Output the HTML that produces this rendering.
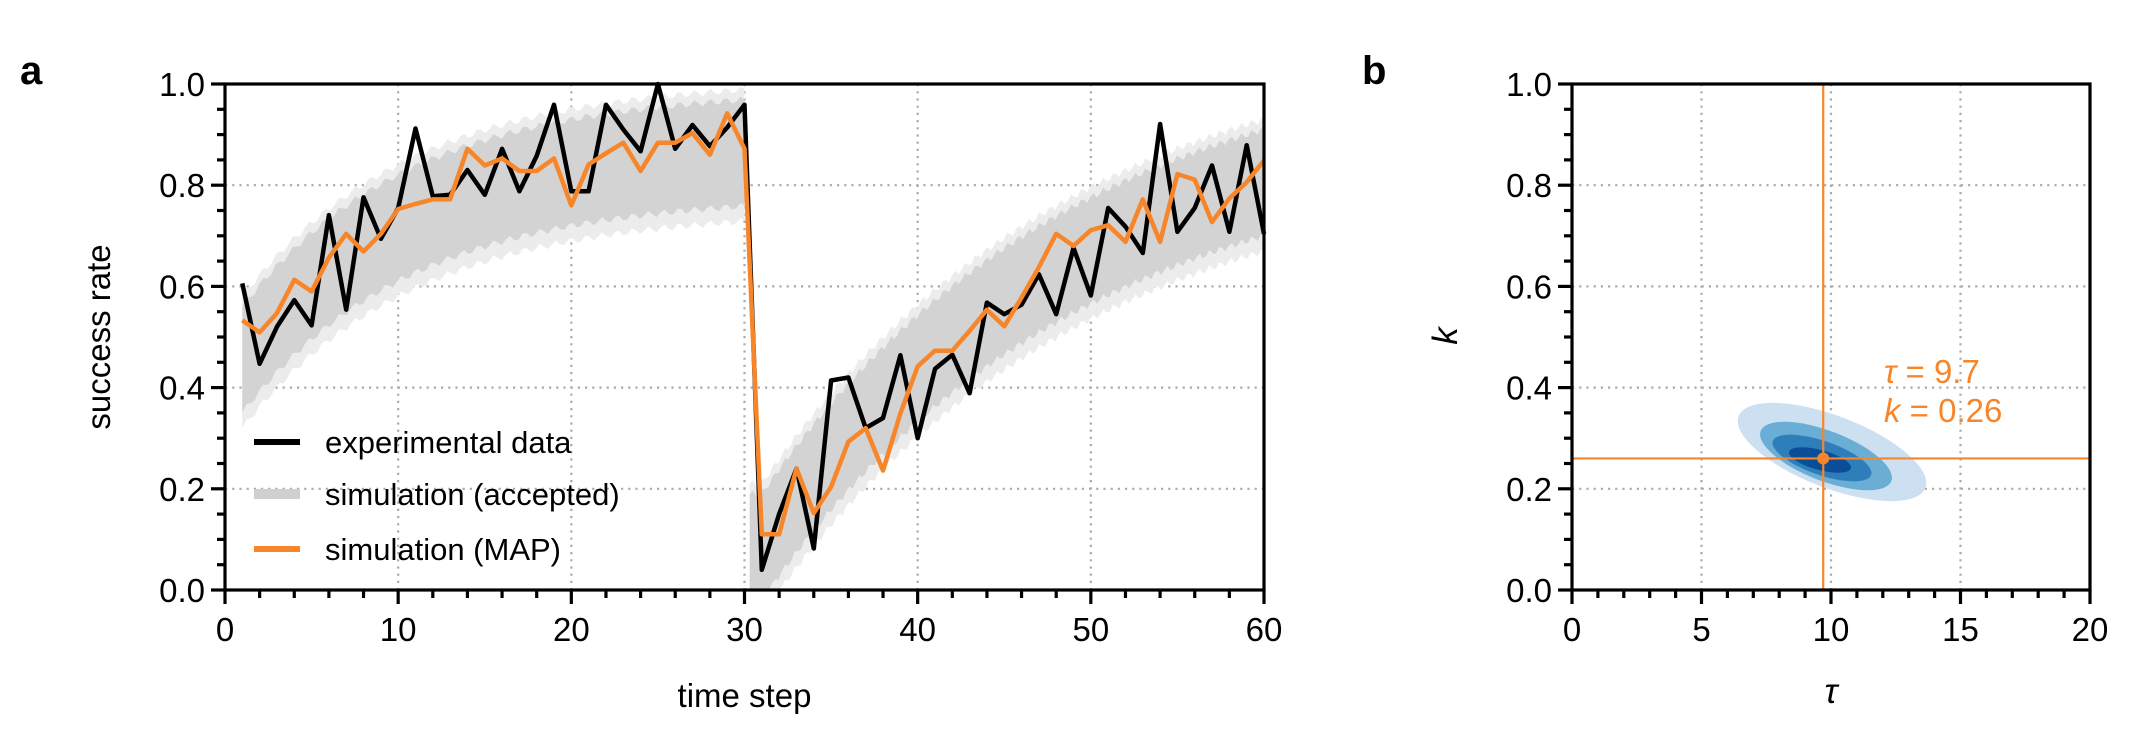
<!DOCTYPE html>
<html><head><meta charset="utf-8"><style>
html,body{margin:0;padding:0;background:#fff}
svg{display:block;font-family:"Liberation Sans",sans-serif}
</style></head><body>
<svg id="s" width="2148" height="738" xmlns="http://www.w3.org/2000/svg"></svg>
<script>
const S=document.getElementById('s');let h='';
const OR='#f7862a';
const ax=225,ar=1264,at=84,ab=590;
const X=t=>ax+t*(ar-ax)/60, Y=v=>ab-v*(ab-at);
for(let t=10;t<60;t+=10)h+=`<line x1="${X(t)}" y1="${at}" x2="${X(t)}" y2="${ab}" stroke="#aaa" stroke-width="2.2" stroke-dasharray="2.2 5"/>`;
for(let v=0.2;v<0.99;v+=0.2)h+=`<line x1="${ax}" y1="${Y(v)}" x2="${ar}" y2="${Y(v)}" stroke="#aaa" stroke-width="2.2" stroke-dasharray="2.2 5"/>`;
function band(lo,hi,fill,op){let up=[],dn=[];
for(let i=0;i<=120;i++){let t=1+i*29/120;let s=(t-1)/29;let m=0.47+0.43*(1-Math.exp(-3*s));let w=Math.sin(i*1.7)*0.007;up.push([X(t),Y(Math.min(1.0,m+hi+w))]);dn.push([X(t),Y(m-lo+w)]);}
let p='M'+up.map(a=>a.join(',')).join('L')+'L'+dn.reverse().map(a=>a.join(',')).join('L')+'Z';
up=[];dn=[];
for(let i=0;i<=160;i++){let t=30.3+i*29.7/160;let s=(t-31)/29;let m=0.1+0.72*(1-Math.exp(-1.6*Math.max(s,0)))/(1-Math.exp(-1.6));let w=Math.sin(i*1.9)*0.007;up.push([X(t),Y(Math.min(1,m+hi+w))]);dn.push([X(t),Y(Math.max(0,m-lo+w))]);}
p+='M'+up.map(a=>a.join(',')).join('L')+'L'+dn.reverse().map(a=>a.join(',')).join('L')+'Z';
h+=`<path d="${p}" fill="${fill}" fill-opacity="${op}"/>`;}
band(0.15,0.11,'#ececec',1);band(0.12,0.09,'#d3d3d3',1);
const blk=[0.606,0.447,0.52,0.573,0.523,0.741,0.554,0.776,0.694,0.755,0.912,0.778,0.781,0.83,0.781,0.872,0.788,0.858,0.959,0.788,0.788,0.959,0.91,0.867,1.0,0.872,0.919,0.877,0.914,0.959,0.04,0.15,0.24,0.082,0.414,0.42,0.32,0.34,0.464,0.30,0.437,0.465,0.389,0.568,0.545,0.564,0.624,0.545,0.676,0.582,0.755,0.718,0.666,0.921,0.708,0.755,0.839,0.708,0.879,0.704];
const org=[0.533,0.509,0.547,0.613,0.59,0.657,0.704,0.669,0.704,0.753,0.763,0.772,0.772,0.872,0.839,0.853,0.828,0.828,0.853,0.76,0.841,0.863,0.884,0.828,0.884,0.884,0.903,0.86,0.942,0.872,0.11,0.11,0.24,0.152,0.204,0.293,0.32,0.236,0.349,0.442,0.473,0.473,0.512,0.554,0.521,0.578,0.638,0.704,0.68,0.711,0.721,0.688,0.772,0.688,0.822,0.811,0.727,0.774,0.806,0.849];
const pl=a=>a.map((v,i)=>X(i+1).toFixed(1)+','+Y(v).toFixed(1)).join(' ');
h+=`<polyline points="${pl(blk)}" fill="none" stroke="#000" stroke-width="4.5" stroke-linejoin="round"/>`;
h+=`<polyline points="${pl(org)}" fill="none" stroke="${OR}" stroke-width="4.5" stroke-linejoin="round"/>`;
h+=`<rect x="${ax}" y="${at}" width="${ar-ax}" height="${ab-at}" fill="none" stroke="#000" stroke-width="3.2"/>`;
for(let v=0;v<=1.001;v+=0.05){let maj=Math.abs(v*5-Math.round(v*5))<1e-6;h+=`<line x1="${ax}" x2="${ax-(maj?14:8)}" y1="${Y(v)}" y2="${Y(v)}" stroke="#000" stroke-width="3.2"/>`;if(maj)h+=`<text x="${ax-20}" y="${Y(v)+12}" font-size="33" text-anchor="end">${v.toFixed(1)}</text>`;}
for(let t=0;t<=60;t+=2){let maj=t%10==0;h+=`<line x1="${X(t)}" x2="${X(t)}" y1="${ab}" y2="${ab+(maj?14:8)}" stroke="#000" stroke-width="3.2"/>`;if(maj)h+=`<text x="${X(t)}" y="${ab+51}" font-size="33" text-anchor="middle">${t}</text>`;}
h+=`<text x="${(ax+ar)/2}" y="707" font-size="33" text-anchor="middle">time step</text>`;
h+=`<text transform="translate(110,${(at+ab)/2}) rotate(-90)" font-size="33" text-anchor="middle">success rate</text>`;
h+=`<text x="20" y="84" font-size="40" font-weight="bold">a</text>`;
[[442,'#000','experimental data'],[494,'#cfcfcf','simulation (accepted)'],[549,OR,'simulation (MAP)']].forEach(r=>{h+=`<line x1="254" x2="300" y1="${r[0]}" y2="${r[0]}" stroke="${r[1]}" stroke-width="${r[1]=='#cfcfcf'?10:6}"/><text x="325" y="${r[0]+11}" font-size="31">${r[2]}</text>`;});
const bx=1572,br=2090;const XB=t=>bx+t*(br-bx)/20;
for(let t=5;t<20;t+=5)h+=`<line x1="${XB(t)}" y1="${at}" x2="${XB(t)}" y2="${ab}" stroke="#aaa" stroke-width="2.2" stroke-dasharray="2.2 5"/>`;
for(let v=0.2;v<0.99;v+=0.2)h+=`<line x1="${bx}" y1="${Y(v)}" x2="${br}" y2="${Y(v)}" stroke="#aaa" stroke-width="2.2" stroke-dasharray="2.2 5"/>`;
h+=`<g transform="translate(1832,452) rotate(21)"><ellipse rx="100" ry="36" fill="#cde0f1"/></g>`;
h+=`<g transform="translate(1826,456) rotate(21)"><ellipse rx="70" ry="25" fill="#6aaed6"/></g>`;
h+=`<g transform="translate(1822,458) rotate(19)"><ellipse rx="52" ry="17" fill="#2f7ebc"/></g>`;
h+=`<g transform="translate(1820,460) rotate(15)"><ellipse rx="32" ry="10" fill="#0b4d96"/></g>`;
const tx=XB(9.7),ky=Y(0.26);
h+=`<line x1="${tx}" x2="${tx}" y1="${at}" y2="${ab}" stroke="${OR}" stroke-width="2.2"/><line x1="${bx}" x2="${br}" y1="${ky}" y2="${ky}" stroke="${OR}" stroke-width="2.2"/><circle cx="${tx}" cy="${ky}" r="6" fill="${OR}"/>`;
h+=`<text x="1884" y="383" font-size="33" fill="${OR}"><tspan font-style="italic">τ</tspan> = 9.7</text>`;
h+=`<text x="1884" y="422" font-size="33" fill="${OR}"><tspan font-style="italic">k</tspan> = 0.26</text>`;
h+=`<rect x="${bx}" y="${at}" width="${br-bx}" height="${ab-at}" fill="none" stroke="#000" stroke-width="3.2"/>`;
for(let v=0;v<=1.001;v+=0.05){let maj=Math.abs(v*5-Math.round(v*5))<1e-6;h+=`<line x1="${bx}" x2="${bx-(maj?14:8)}" y1="${Y(v)}" y2="${Y(v)}" stroke="#000" stroke-width="3.2"/>`;if(maj)h+=`<text x="${bx-20}" y="${Y(v)+12}" font-size="33" text-anchor="end">${v.toFixed(1)}</text>`;}
for(let t=0;t<=20;t+=1){let maj=t%5==0;h+=`<line x1="${XB(t)}" x2="${XB(t)}" y1="${ab}" y2="${ab+(maj?14:8)}" stroke="#000" stroke-width="3.2"/>`;if(maj)h+=`<text x="${XB(t)}" y="${ab+51}" font-size="33" text-anchor="middle">${t}</text>`;}
h+=`<text x="${XB(10)}" y="703" font-size="35" font-style="italic" text-anchor="middle">τ</text>`;
h+=`<text transform="translate(1457,336) rotate(-90)" font-size="35" font-style="italic" text-anchor="middle">k</text>`;
h+=`<text x="1362" y="84" font-size="40" font-weight="bold">b</text>`;
S.innerHTML=h;
</script>
</body></html>
